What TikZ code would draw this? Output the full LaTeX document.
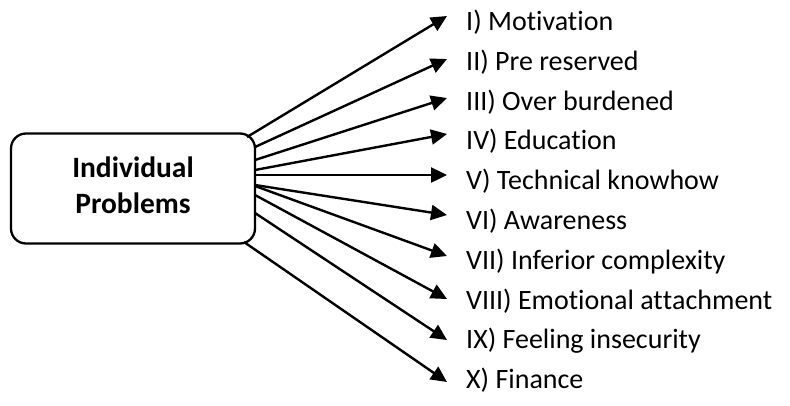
\documentclass[tikz,border=0pt]{standalone}
\usepackage{fontspec}
\setmainfont{Carlito}[Ligatures={NoCommon,NoContextual},Contextuals=NoAlternate]
\usetikzlibrary{arrows.meta}
\newcommand{\nolig}{\kern0pt{}}
\tikzset{
  probbox/.style={draw=black, line width=2.3pt, rounded corners=15pt, minimum width=244pt, minimum height=110pt, inner sep=0pt},
  boxtext/.style={align=center, inner sep=0pt, font=\fontsize{29.5}{36}\selectfont\bfseries},
  lbl/.style={anchor=base west, inner sep=0pt, font=\fontsize{28}{34}\selectfont},
  arr/.style={line width=2.4pt, -{Triangle[length=16pt,width=15pt]}}
}
\begin{document}
\begin{tikzpicture}[x=1pt,y=-1pt]
\path[use as bounding box] (0,0) rectangle (790,405);
\node[probbox] (box) at (133,188.5) {};
\node[boxtext] (boxlbl) at (133,185) {Individual\\Problems};
% labels
\node[lbl] (l1)  at (466,30.5)  {I) Mot\nolig ivat\nolig ion};
\node[lbl] (l2)  at (466,70.3)  {II) Pre reserved};
\node[lbl] (l3)  at (466,110.1) {III) Over burdened};
\node[lbl] (l4)  at (466,149.9) {IV) Educat\nolig ion};
\node[lbl] (l5)  at (466,189.7) {V) Technical knowhow};
\node[lbl] (l6)  at (466,229.5) {VI) Awareness};
\node[lbl] (l7)  at (466,269.3) {VII) Inferior complexity};
\node[lbl] (l8)  at (466,309.1) {VIII) Emot\nolig ional at\nolig t\nolig achment};
\node[lbl] (l9)  at (466,348.9) {IX) Feeling insecurity};
\node[lbl] (l10) at (466,388.7) {X) Finance};
% start points on the box
\coordinate (s1)  at (247,137);
\coordinate (s2)  at (255,147);
\coordinate (s3)  at (255,160);
\coordinate (s4)  at (255,170);
\coordinate (s5)  at (255,175);
\coordinate (s6)  at (255,185);
\coordinate (s7)  at (255,186);
\coordinate (s8)  at (255,195);
\coordinate (s9)  at (255,213);
\coordinate (s10) at (244,242);
% arrow tips
\coordinate (t1)  at (447,16);
\coordinate (t2)  at (447,59);
\coordinate (t3)  at (447,98);
\coordinate (t4)  at (447,134);
\coordinate (t5)  at (447,175);
\coordinate (t6)  at (447,215);
\coordinate (t7)  at (447,256);
\coordinate (t8)  at (447,299);
\coordinate (t9)  at (447,340);
\coordinate (t10) at (447,382);
\foreach \i in {1,...,10} {\draw[arr] (s\i) -- (t\i);}
\end{tikzpicture}
\end{document}
